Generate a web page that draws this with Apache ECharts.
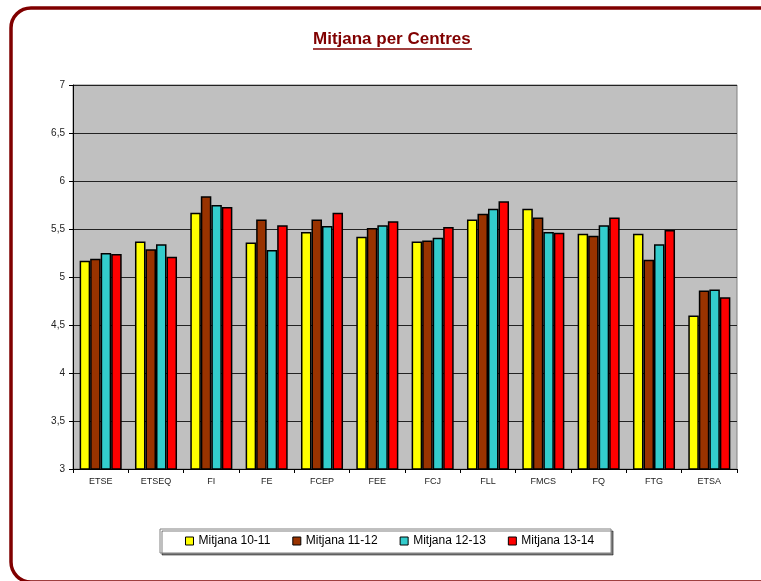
<!DOCTYPE html>
<html>
<head>
<meta charset="utf-8">
<title>Mitjana per Centres</title>
<script src="https://cdn.jsdelivr.net/npm/echarts@6/dist/echarts.min.js"></script>
<style>
  html, body { margin: 0; padding: 0; background: #fff; }
  #chart { width: 761px; height: 581px; }
</style>
</head>
<body>
<div id="chart"></div>
<script>
// centres (eix X)
var centres = ['ETSE', 'ETSEQ', 'FI', 'FE', 'FCEP', 'FEE', 'FCJ', 'FLL', 'FMCS', 'FQ', 'FTG', 'ETSA'];
// mitjanes per curs
var mitjana1011 = [5.17, 5.37, 5.67, 5.36, 5.47, 5.42, 5.37, 5.60, 5.71, 5.45, 5.45, 4.60];
var mitjana1112 = [5.19, 5.29, 5.84, 5.60, 5.60, 5.51, 5.38, 5.66, 5.62, 5.43, 5.18, 4.86];
var mitjana1213 = [5.25, 5.34, 5.75, 5.28, 5.53, 5.54, 5.41, 5.71, 5.47, 5.54, 5.34, 4.87];
var mitjana1314 = [5.24, 5.21, 5.73, 5.54, 5.67, 5.58, 5.52, 5.79, 5.46, 5.62, 5.49, 4.79];
var seriesNames = ['Mitjana 10-11', 'Mitjana 11-12', 'Mitjana 12-13', 'Mitjana 13-14'];
var colors = ['#FFFF00', '#993300', '#33CCCC', '#FF0000'];

var font = '"Liberation Sans", Arial, sans-serif';

function bar(name, data, color) {
    return {
        name: name,
        type: 'bar',
        data: data,
        barGap: '0%',
        barCategoryGap: '24%',
        itemStyle: { color: color, borderColor: '#000', borderWidth: 1.5 },
        emphasis: { disabled: true }
    };
}

var myChart = echarts.init(document.getElementById('chart'), null, { renderer: 'canvas' });
myChart.setOption({
    animation: false,
    backgroundColor: '#fff',
    textStyle: { fontFamily: font },
    title: {
        text: 'Mitjana per Centres',
        left: 313,
        top: 31,
        padding: 0,
        textStyle: { fontSize: 17, fontWeight: 'bold', color: '#800000', fontFamily: font }
    },
    graphic: [
        // marc exterior
        {
            type: 'rect',
            shape: { x: 11, y: 8, width: 770, height: 574, r: 20 },
            style: { fill: 'none', stroke: '#800000', lineWidth: 3.5 },
            silent: true
        },
        // subratllat del títol
        {
            type: 'line',
            shape: { x1: 313, y1: 49, x2: 472, y2: 49 },
            style: { stroke: '#800000', lineWidth: 1.5 },
            silent: true
        }
    ],
    grid: {
        left: 73, right: 24, top: 85, bottom: 112,
        show: true,
        backgroundColor: '#C0C0C0',
        borderColor: '#808080',
        borderWidth: 1
    },
    legend: {
        data: seriesNames,
        left: 160,
        top: 529,
        padding: [6, 17, 6, 25],
        itemGap: 22,
        itemWidth: 8,
        itemHeight: 8,
        icon: 'rect',
        itemStyle: { borderColor: '#000', borderWidth: 1 },
        backgroundColor: '#fff',
        borderColor: '#808080',
        borderWidth: 1,
        shadowColor: 'rgba(0,0,0,0.5)',
        shadowOffsetX: 2,
        shadowOffsetY: 2,
        shadowBlur: 0,
        textStyle: { fontSize: 12, color: '#000', fontFamily: font }
    },
    xAxis: {
        type: 'category',
        data: centres,
        axisLine: { lineStyle: { color: '#000', width: 1 } },
        axisTick: { show: true, length: 4, lineStyle: { color: '#000' } },
        axisLabel: { fontSize: 9, color: '#222', margin: 8, fontFamily: font }
    },
    yAxis: {
        type: 'value',
        min: 3,
        max: 7,
        interval: 0.5,
        axisLine: { show: true, lineStyle: { color: '#000', width: 1 } },
        axisTick: { show: true, length: 4, lineStyle: { color: '#000' } },
        axisLabel: {
            fontSize: 10, color: '#222', margin: 8, fontFamily: font,
            formatter: function (v) { return String(v).replace('.', ','); }
        },
        splitLine: { show: true, lineStyle: { color: '#222', width: 1 } }
    },
    series: [
        bar(seriesNames[0], mitjana1011, colors[0]),
        bar(seriesNames[1], mitjana1112, colors[1]),
        bar(seriesNames[2], mitjana1213, colors[2]),
        bar(seriesNames[3], mitjana1314, colors[3])
    ]
});
</script>
</body>
</html>
